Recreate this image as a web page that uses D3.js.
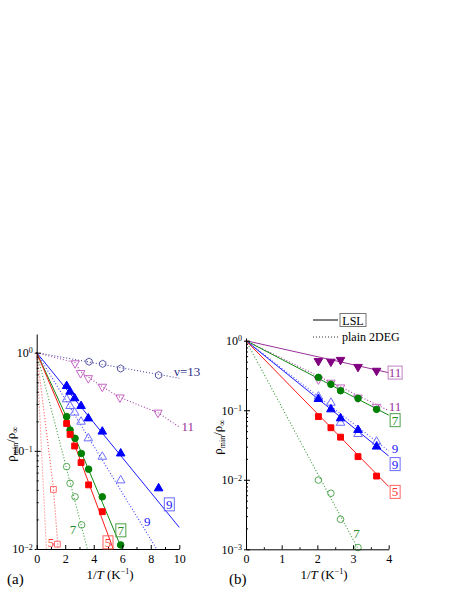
<!DOCTYPE html>
<html>
<head>
<meta charset="utf-8">
<script src="https://cdn.jsdelivr.net/npm/d3@7"></script>
<style>
  body { margin: 0; background: #fff; }
  text { font-family: "Liberation Serif", "Times New Roman", serif; }
</style>
</head>
<body>
<svg id="chart" width="463" height="599"></svg>
<script>
/* DATA */
// panel (a): 1/T in K^-1, rho_min / rho_inf
const a13Pts = [[3.67, 0.81], [4.63, 0.77], [5.89, 0.69], [8.55, 0.59]];
const a13Fit = [[0, 1], [10, 0.55]];
const a11Pts = [[2.69, 0.78], [3.08, 0.62], [3.62, 0.55], [4.6, 0.45], [5.84, 0.35], [8.5, 0.245]];
const a11Fit = [[0, 1], [2.69, 0.79], [3.08, 0.64], [4.6, 0.45], [5.84, 0.35], [8.5, 0.245], [10, 0.175]];
const a9LslPts = [[2.1, 0.457], [2.34, 0.4], [2.66, 0.343], [3.11, 0.286], [3.62, 0.214], [4.6, 0.157], [5.89, 0.094], [8.55, 0.0415]];
const a9LslFit = [[0, 1], [10, 0.0166]];
const a9Pts = [[2.1, 0.335], [2.34, 0.286], [2.66, 0.245], [3.11, 0.198], [3.62, 0.134], [4.6, 0.087], [5.89, 0.05]];
const a9Fit = [[0, 1], [8.41, 0.01]];
const a7LslPts = [[2.1, 0.223], [2.34, 0.163], [2.69, 0.134], [3.13, 0.094], [3.64, 0.065], [4.6, 0.034], [5.89, 0.011]];
const a7LslFit = [[0, 1], [2.1, 0.22], [5.97, 0.01]];
const a5LslPts = [[2.1, 0.19], [2.34, 0.147], [2.66, 0.112], [3.11, 0.076], [3.64, 0.045], [4.6, 0.024]];
const a5LslFit = [[0, 1], [2.1, 0.19], [5.37, 0.01]];
const a7Pts = [[2.1, 0.069], [2.34, 0.0467], [2.69, 0.034], [3.15, 0.0176]];
const a7Fit = [[0, 1], [3.55, 0.01]];
const a5Pts = [[1.17, 0.0405], [1.45, 0.0112]];
const a5Fit = [[0, 1], [1.17, 0.042], [1.5, 0.01]];
const a5bFit = [[0, 1], [0.68, 0.01]];

// panel (b)
const b11LslPts = [[2.03, 0.51], [2.38, 0.5], [2.65, 0.53], [3.14, 0.42], [3.66, 0.37]];
const b11LslFit = [[0, 1], [4, 0.347]];
const b11Pts = [[2.03, 0.278], [2.38, 0.249], [2.65, 0.213], [3.14, 0.152], [3.66, 0.112]];
const b11Fit = [[0, 1], [4, 0.099]];
const b7LslPts = [[2.03, 0.297], [2.38, 0.236], [2.65, 0.191], [3.14, 0.148], [3.66, 0.103]];
const b7LslFit = [[0, 1], [4, 0.085]];
const b9LslPts = [[2.03, 0.145], [2.38, 0.103], [2.65, 0.0765], [3.14, 0.052], [3.66, 0.03]];
const b9LslFit = [[0, 1], [4, 0.022]];
const b9Pts = [[2.03, 0.157], [2.38, 0.128], [2.65, 0.066], [3.14, 0.0455], [3.66, 0.0353]];
const b9Fit = [[0, 1], [4, 0.026]];
const b5LslPts = [[2.03, 0.081], [2.38, 0.056], [2.65, 0.041], [3.14, 0.0215], [3.66, 0.0113]];
const b5LslFit = [[0, 1], [4, 0.008]];
const b7Pts = [[2.03, 0.0099], [2.38, 0.0064], [2.65, 0.0027], [3.14, 0.00106]];
const b7Fit = [[0, 1], [3.15, 0.001]];

const aXTicks = [0, 2, 4, 6, 8, 10];
const bXTicks = [0, 1, 2, 3, 4];

/* SETUP */
const svg = d3.select('#chart');

// hexagon marker for the nu=13 series
const symbolHexagon = {
  draw(ctx, size) {
    const r = Math.sqrt(size / 2.598);
    for (let i = 0; i < 6; i++) {
      const a = Math.PI / 6 + i * Math.PI / 3;
      i ? ctx.lineTo(r * Math.cos(a), r * Math.sin(a)) : ctx.moveTo(r * Math.cos(a), r * Math.sin(a));
    }
    ctx.closePath();
  }
};

const markers = {
  tri: { type: d3.symbolTriangle, size: 32, rot: 0 },
  down: { type: d3.symbolTriangle, size: 32, rot: 180 },
  sq: { type: d3.symbolSquare, size: 34, rot: 0 },
  circ: { type: d3.symbolCircle, size: 34, rot: 0 },
  hex: { type: symbolHexagon, size: 34, rot: 0 }
};

function drawPanel(p) {
  const x = d3.scaleLinear().domain(p.xDomain).range(p.xRange);
  const y = d3.scaleLog().domain(p.yDomain).range(p.yRange);
  const g = svg.append('g');

  // lines first, then markers
  const line = d3.line().x(d => x(d[0])).y(d => y(d[1]));
  p.series.forEach(s => {
    g.append('path')
      .attr('d', line(s.fit))
      .attr('fill', 'none')
      .attr('stroke', s.line)
      .attr('stroke-width', s.dotted ? 1.1 : 1)
      .attr('stroke-dasharray', s.dotted ? '1,2' : null);
  });
  p.series.forEach(s => {
    if (!s.pts) return;
    const m = markers[s.marker];
    g.selectAll(null)
      .data(s.pts)
      .enter()
      .append('path')
      .attr('d', d3.symbol().type(m.type).size(m.size))
      .attr('transform', d => `translate(${x(d[0])},${y(d[1])}) rotate(${m.rot})`)
      .attr('fill', s.filled ? s.color : '#fff')
      .attr('fill-opacity', s.filled ? 1 : 0)
      .attr('stroke', s.color)
      .attr('stroke-width', 1);
  });

  // axes
  const yBottom = p.yRange[0];
  const xLeft = p.xRange[0];
  const xAxis = g.append('g')
    .attr('transform', `translate(0,${yBottom})`)
    .call(d3.axisBottom(x).tickValues(p.xTicks).tickFormat(d3.format('d'))
      .tickSizeInner(-4).tickSizeOuter(0).tickPadding(5));
  g.append('g')
    .attr('transform', `translate(0,${yBottom})`)
    .call(d3.axisBottom(x).tickValues(p.xMinor).tickSize(-2).tickFormat(''))
    .call(a => a.select('.domain').remove());

  const yMajor = d3.range(Math.round(Math.log10(p.yDomain[0])), 1).map(e => Math.pow(10, e));
  const yMinor = [];
  yMajor.slice(0, -1).forEach(v => d3.range(2, 10).forEach(k => yMinor.push(v * k)));
  const yAxis = g.append('g')
    .attr('transform', `translate(${xLeft},0)`)
    .call(d3.axisLeft(y).tickValues(yMajor).tickSizeInner(-4).tickSizeOuter(0).tickPadding(4));
  g.append('g')
    .attr('transform', `translate(${xLeft},0)`)
    .call(d3.axisLeft(y).tickValues(yMajor).tickSize(2).tickFormat(''))
    .call(a => a.select('.domain').remove());
  g.append('g')
    .attr('transform', `translate(${xLeft},0)`)
    .call(d3.axisLeft(y).tickValues(yMinor).tickSize(-2).tickFormat(''))
    .call(a => a.select('.domain').remove());

  [xAxis, yAxis].forEach(a => {
    a.attr('font-family', null);
    a.selectAll('text').attr('font-size', 12).attr('fill', '#000');
    a.selectAll('line, path').attr('stroke', '#000');
  });
  yAxis.selectAll('.tick text').each(function (d) {
    const t = d3.select(this);
    const e = Math.round(Math.log10(d));
    t.text('10');
    t.append('tspan').attr('dy', '-0.45em').attr('font-size', 8).text(e === 0 ? '0' : '\u2212' + (-e));
  });

  // axis titles
  const xt = g.append('text')
    .attr('x', p.xTitle[0]).attr('y', p.xTitle[1])
    .attr('text-anchor', 'middle').attr('font-size', 13);
  xt.append('tspan').text('1/');
  xt.append('tspan').attr('font-style', 'italic').text('T');
  xt.append('tspan').text(' (K');
  xt.append('tspan').attr('dy', -5).attr('font-size', 8).text('\u22121');
  xt.append('tspan').attr('dy', 5).text(')');

  const yt = g.append('text')
    .attr('transform', `translate(${p.yTitle[0]},${p.yTitle[1]}) rotate(-90)`)
    .attr('text-anchor', 'middle').attr('font-size', 13);
  yt.append('tspan').text('\u03c1');
  yt.append('tspan').attr('dy', 3).attr('font-size', 8).text('min');
  yt.append('tspan').attr('dy', -3).text('/\u03c1');
  yt.append('tspan').attr('dy', 3).attr('font-size', 9).text('\u221e');

  g.append('text')
    .attr('x', p.tag[0]).attr('y', p.tag[1])
    .attr('font-size', 15).text(p.tagText);

  // curve labels
  p.labels.forEach(l => {
    const cx = x(l.at[0]), cy = y(l.at[1]);
    g.append('text')
      .attr('x', cx).attr('y', cy + 4.5)
      .attr('text-anchor', 'middle')
      .attr('font-size', 13)
      .attr('fill', l.color)
      .text(l.text);
    if (l.box) {
      const w = l.text.length > 1 ? 14 : 10;
      g.append('rect')
        .attr('x', cx - w / 2).attr('y', cy - 6.5)
        .attr('width', w).attr('height', 13)
        .attr('fill', 'none')
        .attr('stroke', l.boxColor || l.color)
        .attr('stroke-width', 1);
    }
  });
  return { x, y, g };
}

/* PANEL (a) */
drawPanel({
  xDomain: [0, 10], xRange: [36.7, 179.3],
  yDomain: [0.01, 1.55], yRange: [549, 334],
  xTicks: aXTicks, xMinor: [1, 3, 5, 7, 9],
  xTitle: [110, 579], yTitle: [15, 444],
  tag: [7, 584], tagText: '(a)',
  series: [
    { pts: a13Pts, fit: a13Fit, color: '#5656a8', line: '#4a4aa0', marker: 'hex', filled: false, dotted: true },
    { pts: a11Pts, fit: a11Fit, color: '#c565c5', line: '#a040a0', marker: 'down', filled: false, dotted: true },
    { pts: a9Pts, fit: a9Fit, color: '#6f6fff', line: '#3c3cff', marker: 'tri', filled: false, dotted: true },
    { pts: a7Pts, fit: a7Fit, color: '#55a855', line: '#3a9a3a', marker: 'circ', filled: false, dotted: true },
    { pts: a5Pts, fit: a5Fit, color: '#ff6a6a', line: '#ff5050', marker: 'sq', filled: false, dotted: true },
    { pts: null, fit: a5bFit, line: '#ff7070', dotted: true },
    { pts: a9LslPts, fit: a9LslFit, color: '#0000ff', line: '#1a1aff', marker: 'tri', filled: true },
    { pts: a7LslPts, fit: a7LslFit, color: '#008000', line: '#108a10', marker: 'circ', filled: true },
    { pts: a5LslPts, fit: a5LslFit, color: '#ff0000', line: '#ff1a1a', marker: 'sq', filled: true }
  ],
  labels: [
    { text: '\u03bd=13', at: [10.55, 0.636], color: '#2e2e88' },
    { text: '11', at: [10.6, 0.175], color: '#993399' },
    { text: '9', at: [9.3, 0.0285], color: '#2020ff', box: true, boxColor: '#6a6aff' },
    { text: '9', at: [7.75, 0.0191], color: '#2020ff' },
    { text: '7', at: [5.9, 0.0155], color: '#2a8a2a', box: true, boxColor: '#4aa04a' },
    { text: '7', at: [2.55, 0.0157], color: '#2a8a2a' },
    { text: '5', at: [5.0, 0.0117], color: '#ff3030', box: true, boxColor: '#ff6060' },
    { text: '5', at: [1.0, 0.0117], color: '#ff3030' }
  ]
});

/* PANEL (b) */
drawPanel({
  xDomain: [0, 4], xRange: [246, 388.7],
  yDomain: [0.001, 1.094], yRange: [549.3, 338],
  xTicks: bXTicks, xMinor: [0.5, 1.5, 2.5, 3.5],
  xTitle: [324, 579], yTitle: [222, 437],
  tag: [229, 584], tagText: '(b)',
  series: [
    { pts: b11Pts, fit: b11Fit, color: '#c565c5', line: '#a040a0', marker: 'down', filled: false, dotted: true },
    { pts: b9Pts, fit: b9Fit, color: '#6f6fff', line: '#5050ff', marker: 'tri', filled: false, dotted: true },
    { pts: b7Pts, fit: b7Fit, color: '#55a855', line: '#3a9a3a', marker: 'circ', filled: false, dotted: true },
    { pts: b11LslPts, fit: b11LslFit, color: '#800080', line: '#9a309a', marker: 'down', filled: true },
    { pts: b7LslPts, fit: b7LslFit, color: '#008000', line: '#108a10', marker: 'circ', filled: true },
    { pts: b9LslPts, fit: b9LslFit, color: '#0000ff', line: '#1a1aff', marker: 'tri', filled: true },
    { pts: b5LslPts, fit: b5LslFit, color: '#ff0000', line: '#ff1a1a', marker: 'sq', filled: true }
  ],
  labels: [
    { text: '11', at: [4.18, 0.348], color: '#993399', box: true, boxColor: '#c080c0' },
    { text: '11', at: [4.18, 0.114], color: '#993399' },
    { text: '7', at: [4.18, 0.072], color: '#2a8a2a', box: true, boxColor: '#4aa04a' },
    { text: '9', at: [4.18, 0.0286], color: '#2020ff' },
    { text: '9', at: [4.18, 0.0168], color: '#2020ff', box: true, boxColor: '#6a6aff' },
    { text: '5', at: [4.18, 0.0067], color: '#ff3030', box: true, boxColor: '#ff6060' },
    { text: '7', at: [3.1, 0.0017], color: '#2a8a2a' }
  ]
});

// legend of panel (b)
const legend = svg.append('g');
legend.append('line').attr('x1', 313).attr('x2', 338).attr('y1', 320).attr('y2', 320)
  .attr('stroke', '#000').attr('stroke-width', 1);
legend.append('rect').attr('x', 340).attr('y', 313.5).attr('width', 26).attr('height', 13)
  .attr('fill', 'none').attr('stroke', '#777');
legend.append('text').attr('x', 353).attr('y', 324.5).attr('text-anchor', 'middle')
  .attr('font-size', 12).text('LSL');
legend.append('line').attr('x1', 313).attr('x2', 338).attr('y1', 337).attr('y2', 337)
  .attr('stroke', '#333').attr('stroke-width', 1).attr('stroke-dasharray', '1,2');
legend.append('text').attr('x', 342).attr('y', 341).attr('font-size', 12).text('plain 2DEG');
</script>
</body>
</html>
